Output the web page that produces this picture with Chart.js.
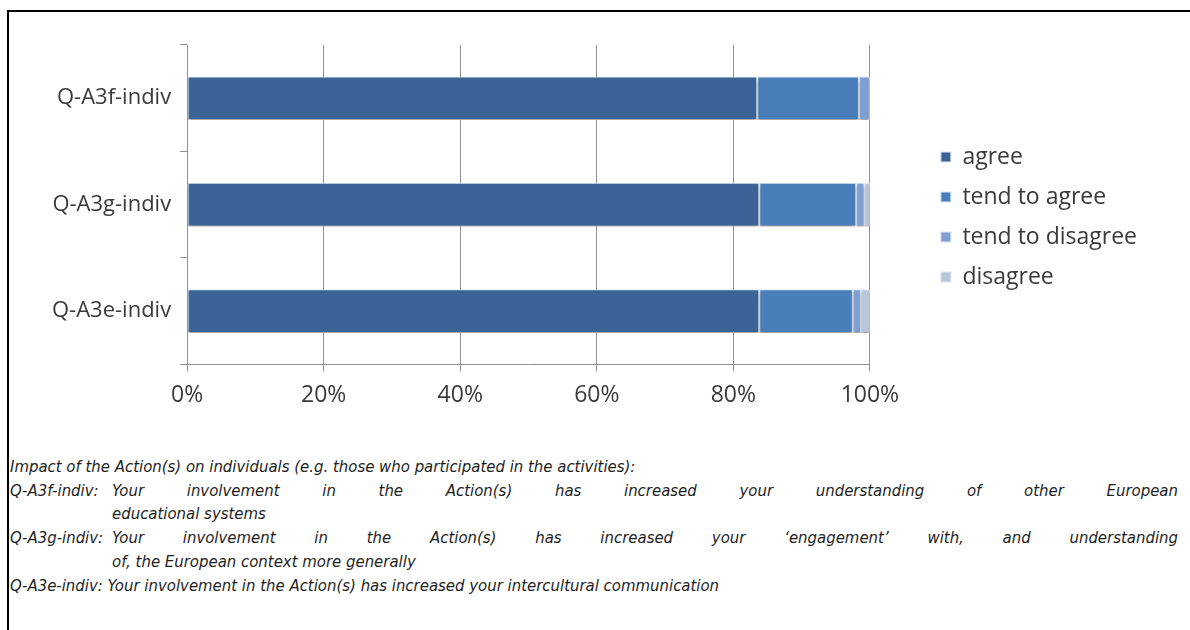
<!DOCTYPE html>
<html>
<head>
<meta charset="utf-8">
<script src="https://cdn.jsdelivr.net/npm/chart.js@4.4.0/dist/chart.umd.min.js"></script>
<style>
  html, body { margin: 0; padding: 0; background: #fff; }
  body { width: 1190px; height: 630px; position: relative; overflow: hidden; }
  #frame {
    position: absolute; left: 7px; top: 10px; width: 1200px; height: 640px;
    border-left: 2px solid #000; border-top: 2px solid #000;
  }
  #wrap { position: absolute; left: 9px; top: 12px; width: 1181px; height: 410px; }
  #caption {
    position: absolute; left: 10px; top: 455px; width: 1168px;
    font-family: "DejaVu Sans Condensed", "DejaVu Sans", sans-serif;
    font-style: italic; font-size: 16.6px; line-height: 23.7px; color: #1e1e1e;
    white-space: nowrap;
  }
  #caption .row { display: flex; }
  #caption .lab { width: 102px; flex: none; }
  #caption .j { flex: 1; text-align: justify; text-align-last: justify; }
  #caption .c { padding-left: 102px; }
</style>
</head>
<body>
<div id="frame"></div>
<div id="wrap"><canvas id="chart"></canvas></div>
<div id="caption">
  <div>Impact of the Action(s) on individuals (e.g. those who participated in the activities):</div>
  <div class="row"><span class="lab">Q-A3f-indiv:</span><span class="j">Your involvement in the Action(s) has increased your understanding of other European</span></div>
  <div class="c">educational systems</div>
  <div class="row"><span class="lab">Q-A3g-indiv:</span><span class="j">Your involvement in the Action(s) has increased your ‘engagement’ with, and understanding</span></div>
  <div class="c">of, the European context more generally</div>
  <div>Q-A3e-indiv: Your involvement in the Action(s) has increased your intercultural communication</div>
</div>
<script>
var categories = ["Q-A3f-indiv", "Q-A3g-indiv", "Q-A3e-indiv"];
var agree = [83.5, 83.8, 83.8];
var tendToAgree = [14.9, 14.2, 13.7];
var tendToDisagree = [1.6, 1.2, 1.2];
var disagree = [0, 0.8, 1.3];
var xTicks = [0, 20, 40, 60, 80, 100];

var color = {
	agree: "#3c6396"
  , tendAgree: "#4a7ebb"
  , tendDisagree: "#7f9ed2"
  , disagree: "#b7c6da"
  , edge: "#dbe6f3"
  , grid: "#8f8f8f"
  , text: "#3a3a3a"
};

var font = "'Open Sans', Lato, sans-serif";

// drop a soft shadow under the bars, like the spreadsheet original
var barShadow = {
	id: "barShadow",
	beforeDatasetsDraw: function(chart) {
		var ctx = chart.ctx;
		ctx.save();
		ctx.shadowColor = "rgba(90,70,50,0.45)";
		ctx.shadowBlur = 3;
		ctx.shadowOffsetY = 3;
	},
	afterDatasetsDraw: function(chart) {
		chart.ctx.restore();
	}
};

// keep a wide gap between plot and legend
var legendGap = 54, legendShift = -15;
var legendPlace = {
	id: "legendPlace",
	beforeInit: function(chart) {
		var fit = chart.legend.fit;
		chart.legend.fit = function() {
			fit.bind(chart.legend)();
			this.width += legendGap;
		};
	},
	afterLayout: function(chart) {
		var lg = chart.legend;
		lg.left += legendGap;
		lg.right += legendGap;
		lg.top += legendShift;
		lg.bottom += legendShift;
	}
};

function ds(label, data, c) {
	return {
		label: label,
		data: data,
		backgroundColor: c,
		borderColor: color.edge,
		borderWidth: 1,
		borderSkipped: false,
		barPercentage: 0.41,
		categoryPercentage: 1
	};
}

var ctx = document.getElementById("chart").getContext("2d");
var chart = new Chart(ctx, {
	type: "bar",
	data: {
		labels: categories,
		datasets: [
			ds("agree", agree, color.agree),
			ds("tend to agree", tendToAgree, color.tendAgree),
			ds("tend to disagree", tendToDisagree, color.tendDisagree),
			ds("disagree", disagree, color.disagree)
		]
	},
	plugins: [barShadow, legendPlace],
	options: {
		indexAxis: "y",
		responsive: true,
		maintainAspectRatio: false,
		animation: false,
		layout: { padding: { left: 34, top: 33, right: 43, bottom: 3 } },
		plugins: {
			legend: {
				position: "right",
				labels: {
					font: { family: font, size: 23 },
					color: color.text,
					boxWidth: 10,
					boxHeight: 10,
					padding: 17,
					useBorderRadius: false
				}
			},
			tooltip: { enabled: false }
		},
		scales: {
			x: {
				stacked: true,
				min: 0,
				max: 100,
				afterBuildTicks: function(axis) {
					axis.ticks = xTicks.map(function(v) { return { value: v }; });
				},
				ticks: {
					callback: function(v) { return v + "%"; },
					font: { family: font, size: 23 },
					color: color.text,
					padding: 10
				},
				grid: { color: color.grid, tickLength: 7, tickColor: color.grid },
				border: { color: color.grid }
			},
			y: {
				stacked: true,
				ticks: {
					font: { family: font, size: 22 },
					color: color.text,
					padding: 9
				},
				grid: { drawOnChartArea: false, tickLength: 7, tickColor: color.grid, offset: true },
				border: { color: color.grid }
			}
		}
	}
});
</script>
</body>
</html>
